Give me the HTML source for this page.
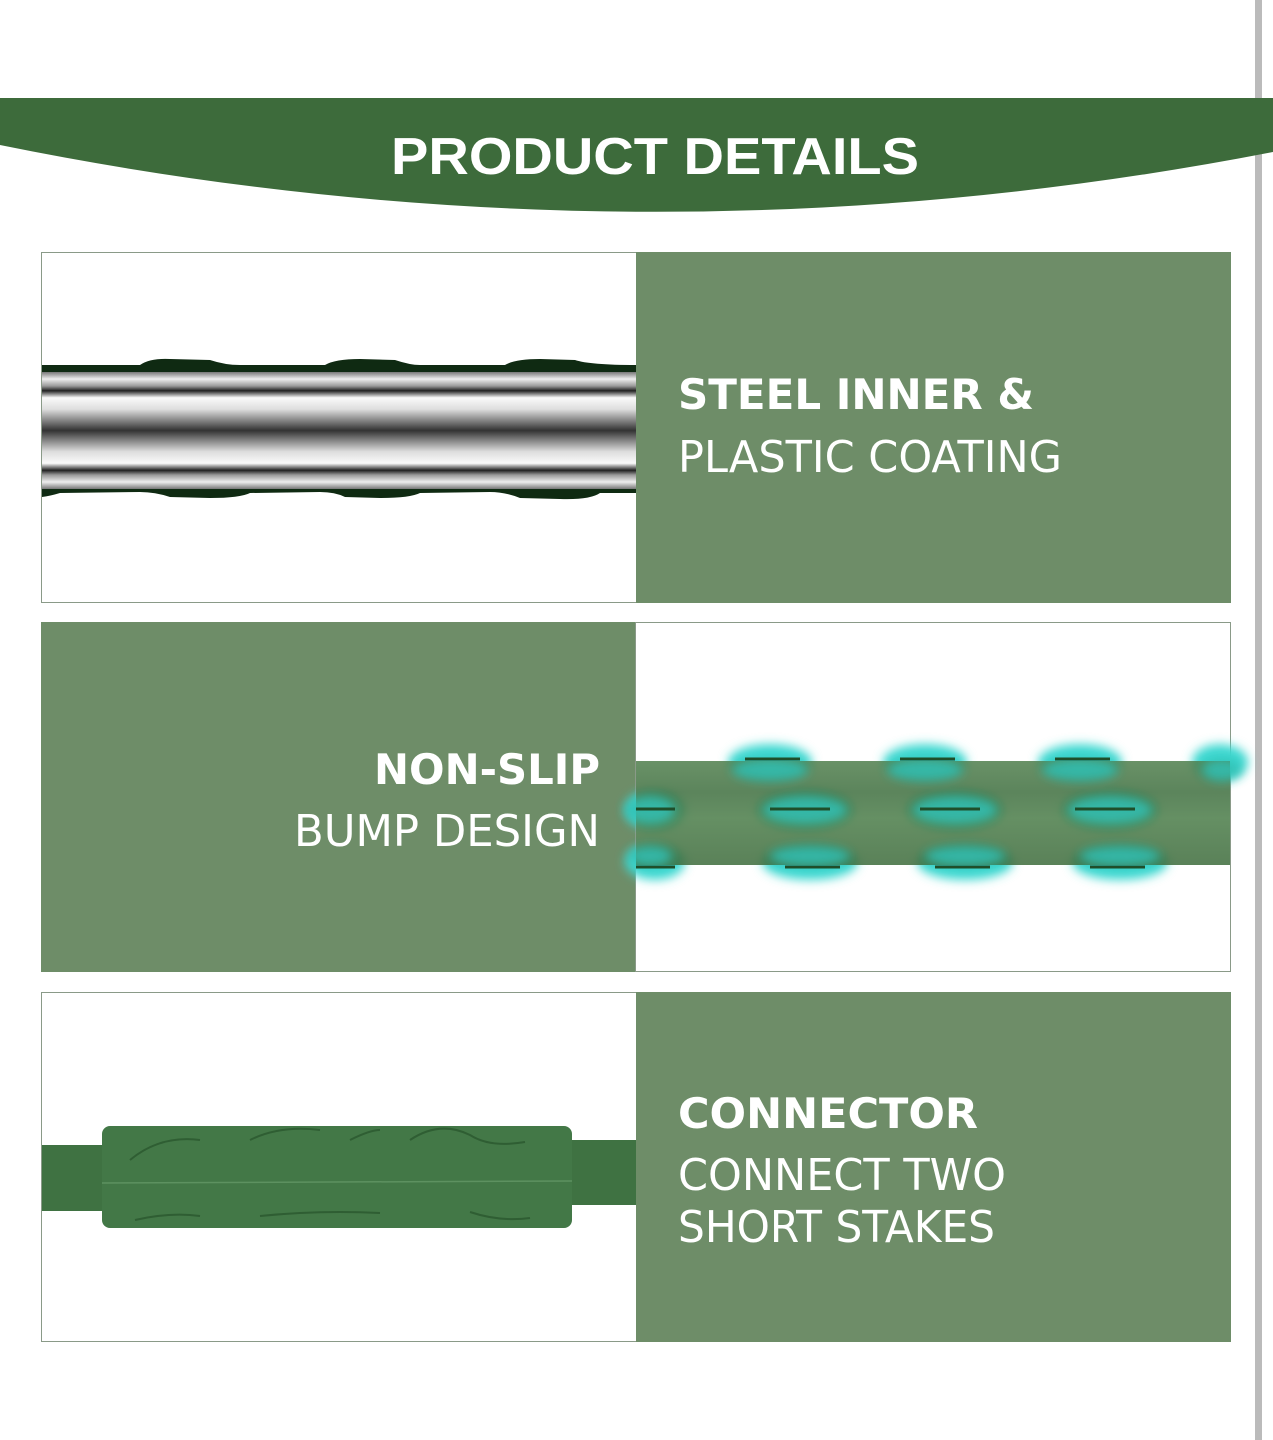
<!DOCTYPE html>
<html><head><meta charset="utf-8"><style>
html,body{margin:0;padding:0;background:#fff;}
svg{display:block;}
text{fill:#fff;}
.d{font-family:"DejaVu Sans","Liberation Sans",sans-serif;}
</style></head><body>
<svg width="1273" height="1440" viewBox="0 0 1273 1440" xmlns="http://www.w3.org/2000/svg">
<defs>
<linearGradient id="steel" x1="0" y1="0" x2="0" y2="1">
<stop offset="0" stop-color="#777"/><stop offset="0.06" stop-color="#eee"/><stop offset="0.12" stop-color="#999"/>
<stop offset="0.16" stop-color="#222"/><stop offset="0.22" stop-color="#fafafa"/><stop offset="0.32" stop-color="#ddd"/>
<stop offset="0.5" stop-color="#333"/><stop offset="0.68" stop-color="#ddd"/><stop offset="0.78" stop-color="#fafafa"/>
<stop offset="0.84" stop-color="#222"/><stop offset="0.88" stop-color="#999"/><stop offset="0.94" stop-color="#eee"/><stop offset="1" stop-color="#777"/>
</linearGradient>
<linearGradient id="grn" x1="0" y1="0" x2="0" y2="1">
<stop offset="0" stop-color="#4f7e4c"/><stop offset="0.3" stop-color="#3f6f3f"/><stop offset="0.55" stop-color="#4a7c48"/><stop offset="1" stop-color="#3d6b3b"/>
</linearGradient>
<filter id="blur" x="-50%" y="-50%" width="200%" height="200%"><feGaussianBlur stdDeviation="5"/></filter>
</defs>
<rect x="1255" y="0" width="7" height="1440" fill="#bbb"/>
<path d="M0 98 H1273 V152 Q640 275 0 145 Z" fill="#3d6b3b"/>
<text x="655" y="174" style="font-family:'Liberation Sans',sans-serif;font-weight:bold" font-size="52" text-anchor="middle" textLength="528" lengthAdjust="spacingAndGlyphs">PRODUCT DETAILS</text>

<!-- row 1 -->
<rect x="41.5" y="252.5" width="595" height="350" fill="#fff" stroke="#8a9a88"/>
<rect x="636" y="252" width="595" height="351" fill="#6e8d68"/>
<path d="M42 365 L140 365 Q150 358 170 359 L210 360 Q225 365 240 365 L325 365 Q335 359 360 359 L395 360 Q410 365 420 365 L505 365 Q515 359 540 359 L575 360 Q590 365 636 365 V493 L600 493 Q590 500 560 499 L520 498 Q505 492 490 492 L420 493 Q410 498 380 498 L345 497 Q335 492 320 492 L250 493 Q240 498 210 498 L170 497 Q155 492 140 492 L60 493 Q50 496 42 497 Z" fill="#0f2a12"/>
<rect x="42" y="372" width="594" height="117" fill="url(#steel)"/>
<text class="d" x="678" y="409" font-weight="bold" font-size="42" textLength="356" lengthAdjust="spacingAndGlyphs">STEEL INNER &amp;</text>
<text class="d" x="678" y="472" font-size="44" textLength="384" lengthAdjust="spacingAndGlyphs">PLASTIC COATING</text>

<!-- row 2 -->
<rect x="41" y="622" width="594" height="350" fill="#6e8d68"/>
<rect x="635.5" y="622.5" width="595" height="349" fill="#fff" stroke="#8a9a88"/>
<g filter="url(#blur)" fill="#3ed8d0">
<ellipse cx="770" cy="762" rx="42" ry="18"/><ellipse cx="925" cy="762" rx="42" ry="18"/><ellipse cx="1080" cy="762" rx="42" ry="18"/><ellipse cx="1220" cy="762" rx="28" ry="18"/>
<ellipse cx="655" cy="810" rx="30" ry="20"/><ellipse cx="805" cy="810" rx="48" ry="20"/><ellipse cx="955" cy="810" rx="48" ry="20"/><ellipse cx="1110" cy="810" rx="48" ry="20"/>
<ellipse cx="655" cy="862" rx="30" ry="18"/><ellipse cx="810" cy="862" rx="48" ry="18"/><ellipse cx="965" cy="862" rx="48" ry="18"/><ellipse cx="1120" cy="862" rx="48" ry="18"/>
</g>
<rect x="636" y="761" width="594" height="104" fill="url(#grn)" opacity="0.85"/>
<g fill="#33c0b4" opacity="0.85" filter="url(#blur)">
<ellipse cx="770" cy="770" rx="38" ry="11"/><ellipse cx="925" cy="770" rx="38" ry="11"/><ellipse cx="1080" cy="770" rx="38" ry="11"/><ellipse cx="1222" cy="770" rx="20" ry="11"/>
<ellipse cx="650" cy="810" rx="25" ry="14"/><ellipse cx="805" cy="810" rx="42" ry="14"/><ellipse cx="955" cy="810" rx="42" ry="14"/><ellipse cx="1110" cy="810" rx="42" ry="14"/>
<ellipse cx="650" cy="856" rx="22" ry="10"/><ellipse cx="810" cy="856" rx="40" ry="10"/><ellipse cx="965" cy="856" rx="40" ry="10"/><ellipse cx="1120" cy="856" rx="40" ry="10"/>
</g>
<g stroke="#1f4e2a" stroke-width="3">
<line x1="745" y1="759" x2="800" y2="759"/><line x1="900" y1="759" x2="955" y2="759"/><line x1="1055" y1="759" x2="1110" y2="759"/>
<line x1="636" y1="809" x2="675" y2="809"/><line x1="770" y1="809" x2="830" y2="809"/><line x1="920" y1="809" x2="980" y2="809"/><line x1="1075" y1="809" x2="1135" y2="809"/>
<line x1="636" y1="867" x2="675" y2="867"/><line x1="785" y1="867" x2="840" y2="867"/><line x1="935" y1="867" x2="990" y2="867"/><line x1="1090" y1="867" x2="1145" y2="867"/>
</g>
<text class="d" x="600" y="784" font-weight="bold" font-size="42" text-anchor="end" textLength="226" lengthAdjust="spacingAndGlyphs">NON-SLIP</text>
<text class="d" x="600" y="846" font-size="44" text-anchor="end" textLength="306" lengthAdjust="spacingAndGlyphs">BUMP DESIGN</text>

<!-- row 3 -->
<rect x="41.5" y="992.5" width="595" height="349" fill="#fff" stroke="#8a9a88"/>
<rect x="636" y="992" width="595" height="350" fill="#6e8d68"/>
<rect x="42" y="1145" width="70" height="66" fill="#3f7242"/>
<rect x="560" y="1140" width="76" height="65" fill="#3f7242"/>
<rect x="102" y="1126" width="470" height="102" rx="8" fill="#437847"/>
<path d="M130 1160 Q160 1135 200 1140 M250 1140 Q280 1125 320 1130 M350 1140 Q370 1130 380 1130 M410 1140 Q440 1120 470 1135 Q490 1148 525 1142 M135 1220 Q170 1212 200 1216 M260 1216 Q320 1210 380 1213 M470 1212 Q500 1222 530 1218" stroke="#2f5e33" stroke-width="2" fill="none"/>
<line x1="102" y1="1183" x2="572" y2="1181" stroke="#5d9160" stroke-width="1.5"/>
<text class="d" x="678" y="1128" font-weight="bold" font-size="42" textLength="300" lengthAdjust="spacingAndGlyphs">CONNECTOR</text>
<text class="d" x="678" y="1190" font-size="44" textLength="328" lengthAdjust="spacingAndGlyphs">CONNECT TWO</text>
<text class="d" x="678" y="1242" font-size="44" textLength="317" lengthAdjust="spacingAndGlyphs">SHORT STAKES</text>
</svg>
</body></html>
